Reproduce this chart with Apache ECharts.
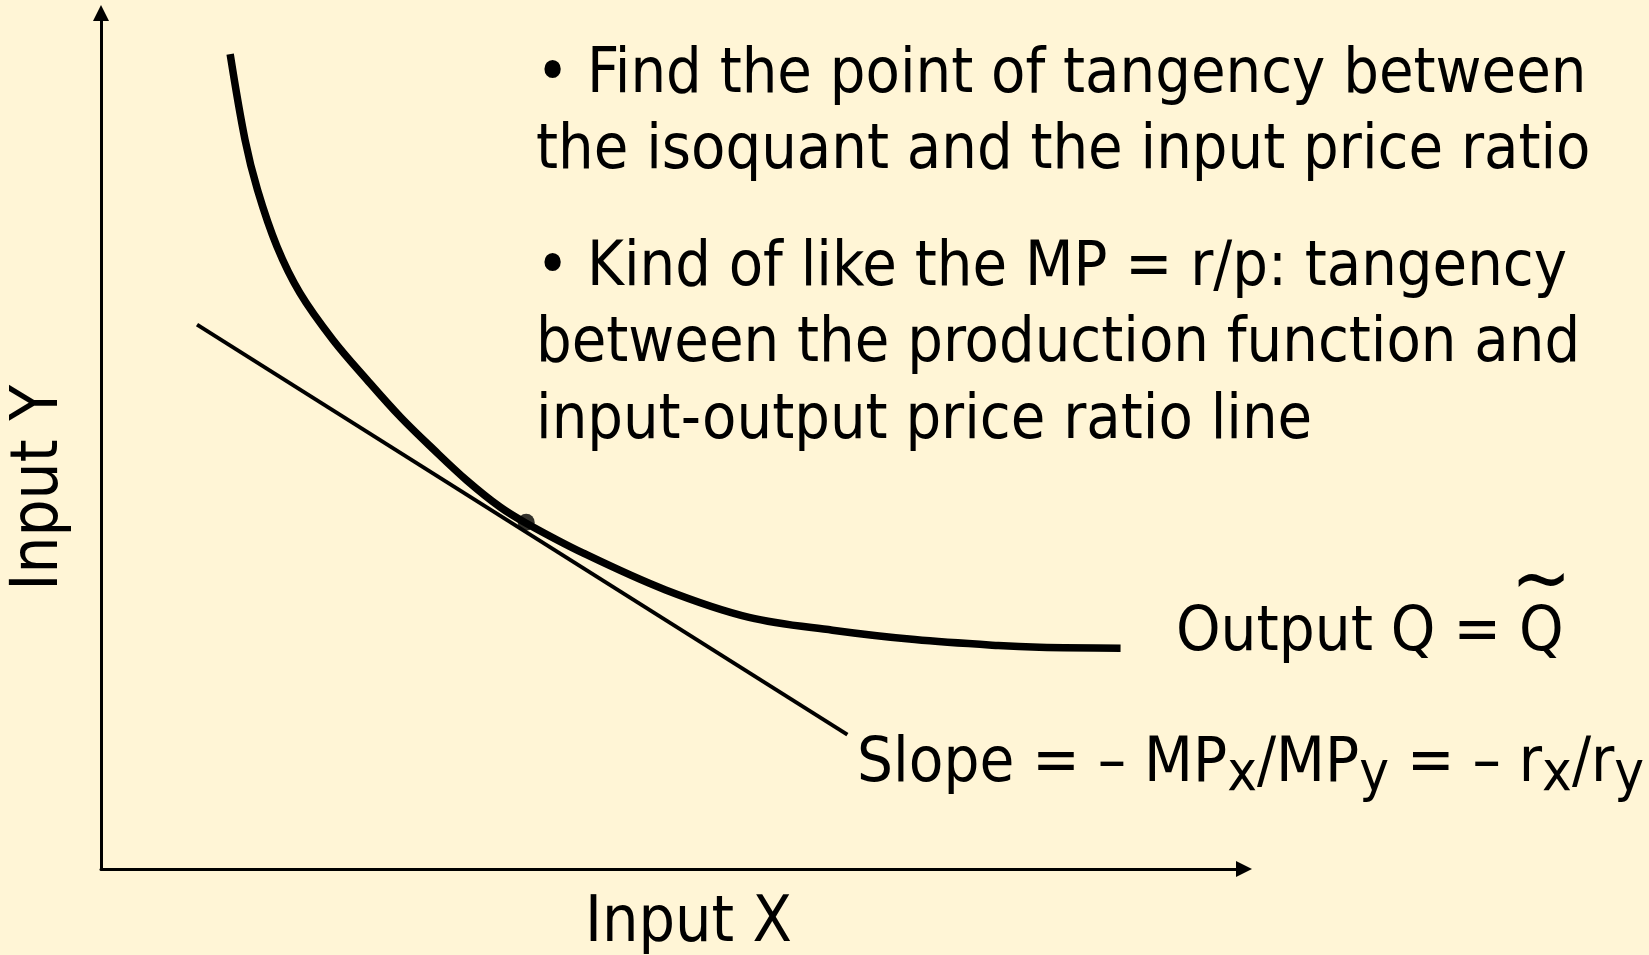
<!DOCTYPE html>
<html>
<head>
<meta charset="utf-8">
<title>Isoquant tangency</title>
<script src="https://cdn.jsdelivr.net/npm/echarts@6/dist/echarts.min.js"></script>
<style>
  html, body { margin: 0; padding: 0; background: #fff5d6; }
  #chart { width: 1649px; height: 955px; }
</style>
</head>
<body>
<div id="chart"></div>
<script>
// isoquant (Output Q = Q~), axes run 0..100
const isoX = [11.3, 12.6, 13.7, 15.4, 17.4, 20.3, 23.3, 26.2, 29.1, 32.0, 34.9, 37.2, 42.2, 49.4, 56.7, 64.0, 71.2, 78.5, 82.1, 89.2]
const isoY = [95.2, 85.2, 79.3, 72.7, 67.3, 61.8, 57.1, 52.8, 49.0, 45.4, 42.3, 40.4, 36.9, 32.6, 29.4, 27.9, 26.8, 26.1, 25.9, 25.8]

// input price ratio line
const priceX = [8.4, 65.3]
const priceY = [63.6, 15.7]

// point of tangency
const tangentPoint = [37.2, 40.5]

const FONT = '\'DejaVu Sans Condensed\', \'DejaVu Sans\', sans-serif'
const bullets1 = ['• Find the point of tangency between', 'the isoquant and the input price ratio']
const bullets2 = ['• Kind of like the MP = r/p: tangency', 'between the production function and', 'input-output price ratio line']
const outputLabel = 'Output Q = Q'
const xName = 'Input X'
const yName = 'Input Y'

function pairs(xs, ys) {
  return xs.map((x, i) => [x, ys[i]])
}

/** width of a string in the label font, used to put the tilde over the last Q */
function textWidth(str, size) {
  const ctx = document.createElement('canvas').getContext('2d')
  ctx.font = `${size}px ${FONT}`
  return ctx.measureText(str).width
}

function hiddenAxis() {
  return {
    type: 'value',
    min: 0,
    max: 100,
    axisLine: {
      show: true,
      symbol: ['none', 'triangle'],
      symbolSize: [16, 16],
      lineStyle: { color: '#000', width: 3 },
    },
    axisTick: { show: false },
    axisLabel: { show: false },
    splitLine: { show: false },
  }
}

function textEl(text, x, y, opts) {
  return Object.assign({
    type: 'text',
    x,
    y,
    silent: true,
    style: Object.assign({
      text,
      fill: '#000',
      fontSize: 62.5,
      fontFamily: FONT,
      align: 'left',
      verticalAlign: 'middle',
    }, opts && opts.style),
  }, opts && opts.el)
}

const outX = 1176
const tildeX = outX + textWidth('Output Q = ', 63) + textWidth('Q', 63) / 2

const chart = echarts.init(document.getElementById('chart'))

const option = {
  backgroundColor: '#fff5d6',
  animation: false,
  grid: { left: 101, top: 13, right: 405, bottom: 86 },
  xAxis: hiddenAxis(),
  yAxis: hiddenAxis(),
  series: [{
    name: 'price ratio',
    type: 'line',
    data: pairs(priceX, priceY),
    showSymbol: false,
    lineStyle: { color: '#000', width: 4 },
    z: 2,
  }, {
    name: 'isoquant',
    type: 'line',
    data: pairs(isoX, isoY),
    smooth: 0.35,
    showSymbol: false,
    lineStyle: { color: '#000', width: 7.5, cap: 'butt' },
    z: 3,
  }, {
    name: 'tangency',
    type: 'scatter',
    data: [tangentPoint],
    symbolSize: 17,
    itemStyle: { color: '#000' },
    z: 4,
  }],
  graphic: [
    textEl(bullets1.join('\n'), 536, 38.5, { style: { verticalAlign: 'top', lineHeight: 75.5 } }),
    textEl(bullets2.join('\n'), 536, 230.5, { style: { verticalAlign: 'top', lineHeight: 76.5 } }),
    textEl(outputLabel, outX, 634, { style: { fontSize: 63 } }),
    textEl('~', tildeX, 584, { style: { align: 'center', fontSize: 80 } }),
    textEl('{m|Slope = – MP}{s|x}{m|/MP}{s|y}{m| = – r}{s|x}{m|/r}{s|y}', 857, 765, {
      style: {
        rich: {
          m: { fontSize: 63, fontFamily: FONT, lineHeight: 76, fill: '#000' },
          s: { fontSize: 56, fontFamily: FONT, lineHeight: 26, verticalAlign: 'bottom', fill: '#000' },
        },
      },
    }),
    textEl(xName, 585, 924, { style: { fontSize: 64 } }),
    textEl(yName, 40.5, 488, { style: { align: 'center', fontSize: 65 }, el: { rotation: Math.PI / 2 } }),
  ],
}

chart.setOption(option)
</script>
</body>
</html>
